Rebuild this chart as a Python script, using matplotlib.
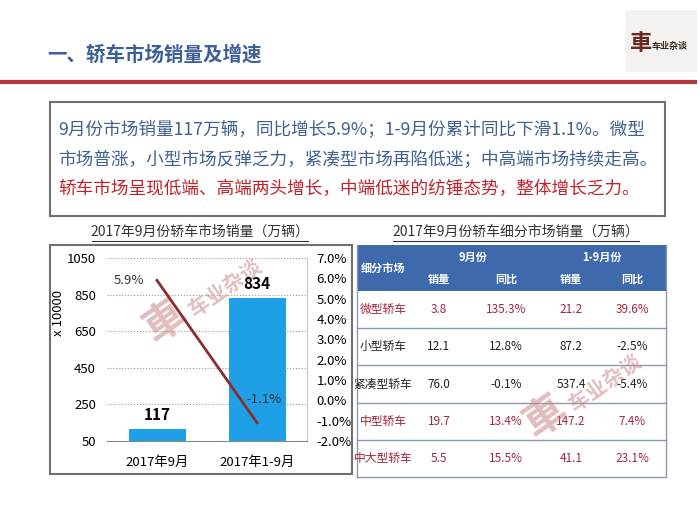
import matplotlib.pyplot as plt
from matplotlib.patches import Rectangle

plt.rcParams['font.family'] = ['Noto Sans CJK SC', 'DejaVu Sans']

# 左图数据
categories = ['2017年9月', '2017年1-9月']
sales = [117, 834]
growth = [5.9, -1.1]

# 右表数据
segments = ['微型轿车', '小型轿车', '紧凑型轿车', '中型轿车', '中大型轿车']
sep_sales = [3.8, 12.1, 76.0, 19.7, 5.5]
sep_yoy = [135.3, 12.8, -0.1, 13.4, 15.5]
ytd_sales = [21.2, 87.2, 537.4, 147.2, 41.1]
ytd_yoy = [39.6, -2.5, -5.4, 7.4, 23.1]
highlight = [True, False, False, True, True]

summary = [
    ('9月份市场销量117万辆，同比增长5.9%；1-9月份累计同比下滑1.1%。微型', '#40608f'),
    ('市场普涨，小型市场反弹乏力，紧凑型市场再陷低迷；中高端市场持续走高。', '#40608f'),
    ('轿车市场呈现低端、高端两头增长，中端低迷的纺锤态势，整体增长乏力。', '#c0232b'),
]

blue = '#3c5f97'
red_txt = '#a3263a'

fig = plt.figure(figsize=(7, 5.24), dpi=100)

# 画布层, 像素坐标
cv = fig.add_axes([0, 0, 1, 1])
cv.set_xlim(0, 700)
cv.set_ylim(524, 0)
cv.axis('off')

# 标题和红线
cv.text(47, 55, '一、轿车市场销量及增速', fontsize=14, fontweight='bold',
        color=blue, va='center', ha='left')
cv.plot([0, 697], [82, 82], color='#b3373c', lw=3, solid_capstyle='butt')

# logo
cv.add_patch(Rectangle((625, 10), 72, 62, facecolor='#f4f2f0', edgecolor='none'))
cv.text(641, 44, '車', fontsize=16, fontweight='bold', color='#6a2a22',
        ha='center', va='center')
cv.text(670, 46, '车业杂谈', fontsize=6.5, fontweight='bold', color='#3a2a22',
        ha='center', va='center')

# 文本框
cv.add_patch(Rectangle((50, 102), 615, 114, facecolor='white',
                       edgecolor='#707070', lw=1.5))
for (line, c), y in zip(summary, [130, 160, 189]):
    cv.text(58, y, line, fontsize=12.7, color=c, va='center', ha='left')

# 左图框和标题
cv.add_patch(Rectangle((50, 245), 302, 229, facecolor='white',
                       edgecolor='#707070', lw=1.5))
cv.text(200, 232, '2017年9月份轿车市场销量（万辆）', fontsize=10,
        color='#333333', ha='center', va='center')
cv.plot([92, 308], [241, 241], color='#333333', lw=0.8)

# 右表标题
cv.text(516, 232, '2017年9月份轿车细分市场销量（万辆）', fontsize=10,
        color='#333333', ha='center', va='center')
cv.plot([393, 639], [241, 241], color='#333333', lw=0.8)

# 柱状图
ax = fig.add_axes([107 / 700, 1 - 441 / 524, 200 / 700, 183 / 524])
ax.set_facecolor('none')
x = range(len(categories))
ax.bar(x, sales, width=0.57, color='#1e9fe6', zorder=2)
ax.set_xlim(-0.5, 1.5)
ax.set_ylim(50, 1050)
ax.set_yticks(range(50, 1051, 200))
ax.set_xticks(list(x))
ax.set_xticklabels(categories, fontsize=9.5)
ax.yaxis.grid(True, linestyle=':', color='#9a9a9a', lw=0.8)
ax.set_axisbelow(True)
ax.tick_params(axis='y', length=0, pad=8, labelsize=9.5)
ax.tick_params(axis='x', length=0, pad=11)
ax.spines['left'].set_visible(False)
ax.spines['top'].set_visible(False)
ax.spines['right'].set_color('#c8c8c8')
ax.spines['bottom'].set_color('#888888')
ax.set_ylabel('x 10000', fontsize=9.5)
ax.yaxis.set_label_coords(-0.21, 0.70)
for i, v in zip(x, sales):
    ax.annotate(str(v), (i, v), xytext=(0, 10), textcoords='offset points',
                ha='center', va='center', fontsize=11, fontweight='bold')

ax2 = ax.twinx()
ax2.plot(list(x), growth, color='#8b2c2c', lw=2)
ax2.set_ylim(-2, 7)
ax2.set_yticks(range(-2, 8))
ax2.set_yticklabels([f'{v:.1f}%' for v in range(-2, 8)], fontsize=9.5)
ax2.tick_params(length=0, pad=7)
for s in ax2.spines.values():
    s.set_visible(False)
ax2.annotate(f'{growth[0]}%', (0, growth[0]), xytext=(-9, 0),
             textcoords='offset points', ha='right', va='center', fontsize=9.5,
             color='#333333')
ax2.annotate(f'{growth[1]}%', (1, growth[1]), xytext=(5, 17),
             textcoords='offset points', ha='center', va='center', fontsize=9.5,
             color='#333333')

# 细分市场表
col_x = [383, 439, 506, 571, 632]
tl, tr = 357, 666
cv.add_patch(Rectangle((tl, 245), tr - tl, 46, facecolor='#3e6aad', edgecolor='none'))
hdr = dict(color='white', fontsize=8, fontweight='bold', ha='center', va='center')
cv.text(col_x[0], 268, '细分市场', **hdr)
cv.text((col_x[1] + col_x[2]) / 2, 257, '9月份', **hdr)
cv.text((col_x[3] + col_x[4]) / 2, 257, '1-9月份', **hdr)
for cx, t in zip(col_x[1:], ['销量', '同比', '销量', '同比']):
    cv.text(cx, 279, t, **hdr)

row_top = [291, 328, 366, 403, 440]
row_h = 37
for i, seg in enumerate(segments):
    y = row_top[i] + row_h / 2
    c = red_txt if highlight[i] else '#222222'
    vals = [seg, f'{sep_sales[i]:.1f}', f'{sep_yoy[i]:.1f}%',
            f'{ytd_sales[i]:.1f}', f'{ytd_yoy[i]:.1f}%']
    for cx, t in zip(col_x, vals):
        cv.text(cx, y, t, fontsize=8.5, color=c, ha='center', va='center')
    cv.plot([tl, tr], [row_top[i] + row_h] * 2, color='#8c9bb3', lw=1)
cv.plot([tl, tl], [245, 477], color='#8c9bb3', lw=1)
cv.plot([tr, tr], [245, 477], color='#8c9bb3', lw=1)

# 水印
for wx, wy in [(205, 300), (585, 395)]:
    cv.text(wx - 40, wy + 22, '車', fontsize=30, color='#c9868a', alpha=0.55,
            rotation=35, ha='center', va='center', fontweight='bold')
    cv.text(wx + 20, wy - 12, '车业杂谈', fontsize=15, color='#c9868a', alpha=0.55,
            rotation=35, ha='center', va='center', fontweight='bold')

fig.savefig('out.png', dpi=100)
